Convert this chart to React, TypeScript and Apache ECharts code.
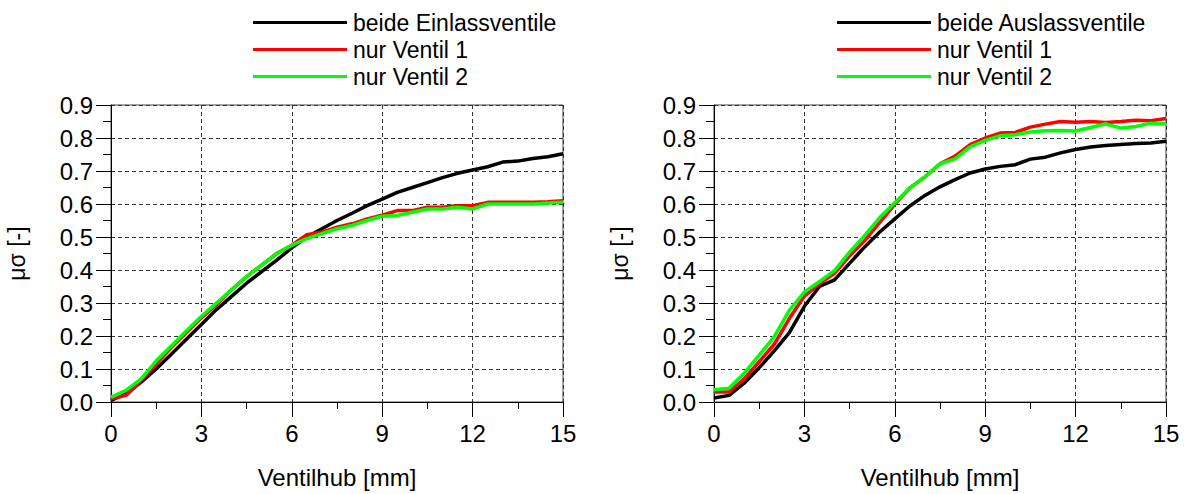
import React, { useEffect, useRef } from "react";
import * as echarts from "echarts";

const hub = [0, 0.5, 1, 1.5, 2, 2.5, 3, 3.5, 4, 4.5, 5, 5.5, 6, 6.5, 7, 7.5, 8, 8.5, 9, 9.5, 10, 10.5, 11, 11.5, 12, 12.5, 13, 13.5, 14, 14.5, 15];

// Left plot (Einlass)
const einBeide = [0.005, 0.025, 0.06, 0.1, 0.145, 0.19, 0.235, 0.28, 0.32, 0.36, 0.395, 0.43, 0.467, 0.5, 0.525, 0.55, 0.572, 0.595, 0.615, 0.635, 0.65, 0.665, 0.68, 0.693, 0.703, 0.713, 0.727, 0.73, 0.738, 0.743, 0.752];
const einV1 = [0.01, 0.02, 0.065, 0.115, 0.165, 0.21, 0.255, 0.295, 0.34, 0.38, 0.415, 0.45, 0.475, 0.507, 0.515, 0.53, 0.54, 0.555, 0.566, 0.58, 0.58, 0.59, 0.59, 0.595, 0.595, 0.605, 0.605, 0.605, 0.605, 0.607, 0.61];
const einV2 = [0.015, 0.035, 0.07, 0.125, 0.17, 0.215, 0.26, 0.3, 0.34, 0.38, 0.415, 0.45, 0.475, 0.495, 0.51, 0.525, 0.535, 0.55, 0.563, 0.565, 0.575, 0.585, 0.585, 0.59, 0.585, 0.6, 0.6, 0.6, 0.6, 0.603, 0.605];

// Right plot (Auslass)
const ausBeide = [0.012, 0.02, 0.057, 0.104, 0.155, 0.21, 0.29, 0.35, 0.37, 0.42, 0.47, 0.515, 0.555, 0.594, 0.626, 0.652, 0.674, 0.694, 0.706, 0.714, 0.719, 0.736, 0.742, 0.755, 0.765, 0.773, 0.777, 0.78, 0.783, 0.785, 0.79];
const ausV1 = [0.03, 0.03, 0.07, 0.122, 0.175, 0.253, 0.321, 0.358, 0.39, 0.443, 0.489, 0.544, 0.599, 0.649, 0.682, 0.722, 0.745, 0.78, 0.8, 0.815, 0.817, 0.833, 0.842, 0.85, 0.848, 0.85, 0.847, 0.85, 0.854, 0.852, 0.859];
const ausV2 = [0.037, 0.042, 0.087, 0.142, 0.198, 0.278, 0.333, 0.365, 0.398, 0.454, 0.504, 0.559, 0.604, 0.649, 0.682, 0.722, 0.737, 0.773, 0.793, 0.807, 0.81, 0.818, 0.822, 0.823, 0.821, 0.832, 0.843, 0.83, 0.835, 0.845, 0.843];

const legendLeft = ["beide Einlassventile", "nur Ventil 1", "nur Ventil 2"];
const legendRight = ["beide Auslassventile", "nur Ventil 1", "nur Ventil 2"];
const colors = ["#000000", "#ff0000", "#00ff00"];

const xName = "Ventilhub [mm]";
const yName = "μσ [-]";

const FONT = "Arial, 'Liberation Sans', sans-serif";

function pairs(ys: number[]) {
  return hub.map((x, i) => [x, ys[i]]);
}

export default function App() {
  const ref = useRef<HTMLDivElement>(null);
  useEffect(() => {
    document.body.style.margin = "0";
    const chart = echarts.init(ref.current!, undefined, { renderer: "svg" });
    const xAxisBase = (gridIndex: number) => ({
      type: "value",
      gridIndex,
      min: 0,
      max: 15,
      interval: 3,
      name: xName,
      nameLocation: "middle",
      nameGap: 63,
      nameTextStyle: { fontSize: 24, color: "#000", fontFamily: FONT },
      axisLine: { show: true, lineStyle: { color: "#000", width: 1 } },
      axisTick: { show: true, length: 15, lineStyle: { color: "#000" } },
      minorTick: { show: true, splitNumber: 2, length: 7, lineStyle: { color: "#000" } },
      axisLabel: { fontSize: 24, color: "#000", fontFamily: FONT, margin: 19 },
      splitLine: { show: true, lineStyle: { color: "#333", type: [4, 3], width: 1 } },
    });
    const yAxisBase = (gridIndex: number) => ({
      type: "value",
      gridIndex,
      min: 0,
      max: 0.9,
      interval: 0.1,
      name: yName,
      nameLocation: "middle",
      nameGap: 83,
      nameRotate: 90,
      nameTextStyle: { fontSize: 23, color: "#000", fontFamily: FONT },
      axisLine: { show: true, lineStyle: { color: "#000", width: 1 } },
      axisTick: { show: true, length: 15, lineStyle: { color: "#000" } },
      minorTick: { show: true, splitNumber: 2, length: 8, lineStyle: { color: "#000" } },
      axisLabel: {
        fontSize: 24,
        color: "#000",
        fontFamily: FONT,
        margin: 18,
        formatter: (v: number) => v.toFixed(1),
      },
      splitLine: { show: true, lineStyle: { color: "#333", type: [4, 3], width: 1 } },
    });
    const mkSeries = (name: string, data: number[], idx: number, color: string) => ({
      type: "line",
      name,
      xAxisIndex: idx,
      yAxisIndex: idx,
      data: pairs(data),
      showSymbol: false,
      symbol: "none",
      lineStyle: { color, width: 3.5 },
      itemStyle: { color },
      z: 3,
    });
    const legendBase = (left: number, data: string[]) => ({
      orient: "vertical",
      left,
      top: 11,
      padding: 0,
      icon: "rect",
      itemWidth: 94,
      itemHeight: 3,
      itemGap: 4,
      selectedMode: false,
      data,
      textStyle: { fontSize: 23, lineHeight: 23, color: "#000", fontFamily: FONT, padding: [0, 0, 0, 1] },
    });
    chart.setOption({
      animation: false,
      backgroundColor: "#fff",
      grid: [
        { left: 111, top: 105, width: 452, height: 299, show: true, borderColor: "#444", borderWidth: 1, backgroundColor: "transparent" },
        { left: 714, top: 105, width: 452, height: 299, show: true, borderColor: "#444", borderWidth: 1, backgroundColor: "transparent" },
      ],
      legend: [legendBase(253, legendLeft), legendBase(837, legendRight)],
      xAxis: [xAxisBase(0), xAxisBase(1)],
      yAxis: [yAxisBase(0), yAxisBase(1)],
      series: [
        mkSeries(legendLeft[0], einBeide, 0, colors[0]),
        mkSeries(legendLeft[1], einV1, 0, colors[1]),
        mkSeries(legendLeft[2], einV2, 0, colors[2]),
        mkSeries(legendRight[0], ausBeide, 1, colors[0]),
        mkSeries(legendRight[1], ausV1, 1, colors[1]),
        mkSeries(legendRight[2], ausV2, 1, colors[2]),
      ],
    });
    return () => chart.dispose();
  }, []);
  return <div ref={ref} style={{ width: 1186, height: 494 }} />;
}
